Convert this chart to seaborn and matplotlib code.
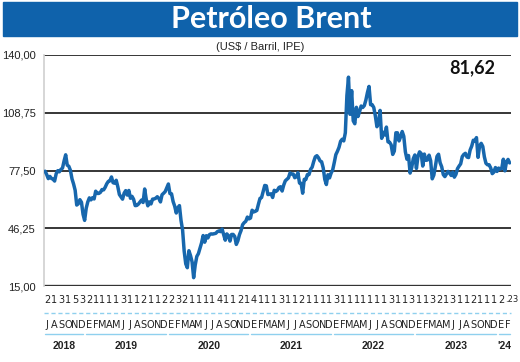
import pandas as pd
import numpy as np
import seaborn as sns
import matplotlib.pyplot as plt
import matplotlib.transforms as mtransforms
from matplotlib.patches import Rectangle

# weekly Brent closes (US$/barrel), one list per year, first friday given
START_2018 = '2018-07-06'
BRENT_2018 = [77.1, 75.3, 73.1, 74.3, 73.2, 72.8, 71.8, 75.8, 77.4, 76.8, 78.1,
              78.8, 82.7, 86.0, 80.4, 79.8, 77.6, 73.0, 70.2, 66.8, 58.8, 59.5,
              61.7, 60.3, 53.8, 50.5]
START_2019 = '2019-01-04'
BRENT_2019 = [57.1, 60.5, 62.7, 61.6, 62.8, 62.1, 66.3, 65.1, 65.1, 65.7, 67.2,
              67.0, 68.4, 70.3, 71.6, 71.9, 74.0, 70.9, 70.6, 72.2, 68.7, 64.5,
              63.3, 62.0, 65.2, 66.6, 64.2, 66.7, 62.5, 63.5, 61.9, 58.5, 58.6,
              59.3, 60.4, 61.5, 60.2, 67.5, 61.9, 58.4, 60.5, 59.4, 62.0, 62.1,
              62.5, 63.3, 62.4, 60.5, 64.4, 65.2, 66.1, 68.2]
START_2020 = '2020-01-03'
BRENT_2020 = [70.2, 65.0, 64.9, 60.7, 58.2, 54.5, 57.3, 58.5, 50.5, 45.3, 33.9,
              27.0, 24.9, 34.1, 31.5, 28.1, 19.5, 26.4, 31.0, 32.5, 35.3, 38.3,
              42.3, 38.7, 42.2, 41.0, 42.8, 43.2, 43.1, 43.3, 43.5, 44.4, 44.8,
              44.4, 45.8, 42.7, 39.8, 43.2, 42.2, 39.3, 42.9, 42.9, 41.8, 37.5,
              39.5, 42.8, 45.0, 48.2, 49.3, 50.0, 52.3, 51.3]
START_2021 = '2021-01-01'
BRENT_2021 = [51.8, 56.0, 55.1, 55.4, 55.9, 59.3, 62.4, 62.9, 66.1, 69.4, 69.2,
              64.5, 64.6, 64.9, 62.9, 66.8, 66.1, 66.8, 68.3, 68.7, 66.4, 69.6,
              71.9, 72.7, 73.5, 76.2, 75.6, 75.6, 73.6, 74.1, 76.3, 70.7, 70.6,
              65.2, 72.7, 72.6, 75.3, 75.3, 78.1, 79.3, 82.4, 84.9, 85.5, 84.4,
              82.7, 82.2, 78.9, 72.7, 69.9, 75.2, 73.5, 76.1, 77.8]
START_2022 = '2022-01-07'
BRENT_2022 = [81.8, 86.1, 87.9, 90.0, 93.3, 94.4, 93.5, 97.9, 118.1, 128.0,
              107.9, 120.7, 104.4, 102.8, 111.7, 106.7, 109.3, 112.4, 111.6,
              112.6, 115.6, 119.7, 123.0, 113.1, 113.1, 111.6, 107.0, 101.2,
              103.2, 110.0, 94.9, 98.2, 96.7, 101.0, 93.0, 92.8, 91.4, 86.2,
              88.0, 97.9, 97.9, 93.5, 95.8, 98.6, 96.0, 87.6, 83.6, 85.6, 76.1,
              79.0, 83.9, 85.9]
START_2023 = '2023-01-06'
BRENT_2023 = [78.6, 85.3, 87.6, 86.7, 79.9, 86.4, 83.0, 83.2, 85.8, 82.8, 73.0,
              75.0, 79.8, 85.1, 86.3, 81.7, 79.5, 75.3, 74.2, 75.6, 77.0, 76.1,
              74.8, 76.6, 73.9, 75.4, 78.5, 79.9, 81.1, 85.0, 86.2, 86.8, 84.8,
              84.5, 88.6, 90.7, 93.9, 93.3, 95.3, 84.6, 90.9, 92.2, 90.5, 84.9,
              81.4, 80.6, 80.6, 78.9, 75.8, 76.6, 79.1, 77.0]
START_2024 = '2024-01-05'
BRENT_2024 = [78.8, 78.3, 78.6, 83.6, 77.3, 82.2, 83.5, 81.6]

LAST_VALUE = '81,62'

# month axis (Jul 2018 .. Feb 2024)
MONTH_LETTERS = ['J', 'A', 'S', 'O', 'N', 'D',
                 'E', 'F', 'M', 'A', 'M', 'J', 'J', 'A', 'S', 'O', 'N', 'D',
                 'E', 'F', 'M', 'A', 'M', 'J', 'J', 'A', 'S', 'O', 'N', 'D',
                 'E', 'F', 'M', 'A', 'M', 'J', 'J', 'A', 'S', 'O', 'N', 'D',
                 'E', 'F', 'M', 'A', 'M', 'J', 'J', 'A', 'S', 'O', 'N', 'D',
                 'E', 'F', 'M', 'A', 'M', 'J', 'J', 'A', 'S', 'O', 'N', 'D',
                 'E', 'F']
MONTH_DIGITS = ['2', '1', '3', '1', '5', '3',
                '2', '1', '1', '1', '1', '3', '1', '1', '2', '1', '1', '2',
                '2', '3', '2', '1', '1', '1', '1', '4', '1', '1', '2', '1',
                '4', '1', '1', '1', '3', '1', '1', '2', '1', '1', '1', '1',
                '3', '1', '1', '1', '1', '1', '1', '1', '3', '1', '1', '3',
                '1', '1', '3', '2', '1', '3', '1', '1', '2', '1', '1', '1',
                '2', '.23']
YEARS = ['2018', '2019', '2020', '2021', '2022', '2023', "'24"]
YEAR_FIRST = ['2018-07', '2019-01', '2020-01', '2021-01', '2022-01', '2023-01', '2024-01']
YEAR_LAST = ['2018-12', '2019-12', '2020-12', '2021-12', '2022-12', '2023-12', '2024-02']

Y_TICKS = [15.0, 46.25, 77.5, 108.75, 140.0]

BANNER = '#0f62ab'
LINE = '#1767ad'
LIGHT_BLUE = '#8fd0ee'


def build_frame():
    ''' one frame of weekly dates and prices '''
    parts = []
    for start, vals in [(START_2018, BRENT_2018), (START_2019, BRENT_2019),
                        (START_2020, BRENT_2020), (START_2021, BRENT_2021),
                        (START_2022, BRENT_2022), (START_2023, BRENT_2023),
                        (START_2024, BRENT_2024)]:
        dates = pd.date_range(start, periods=len(vals), freq='7D')
        parts.append(pd.DataFrame({'date': dates, 'price': vals}))
    return pd.concat(parts, ignore_index=True)


def main():
    df = build_frame()
    sns.set_style('white')
    plt.rcParams['font.family'] = ['Liberation Sans', 'DejaVu Sans']

    fig = plt.figure(figsize=(5.2, 3.62), dpi=100)
    W, H = 520, 362
    ax = fig.add_axes([44 / W, 1 - 286 / H, (511 - 44) / W, (286 - 55) / H])

    # title banner
    fig.patches.append(Rectangle((3 / W, 1 - 36 / H), 514 / W, 34 / H,
                                 transform=fig.transFigure, color=BANNER,
                                 zorder=0))
    fig.text(271 / W, 1 - 19 / H, 'Petróleo Brent', ha='center', va='center',
             color='white', fontsize=22, fontweight='bold',
             family=['Lato', 'DejaVu Sans'])
    fig.text(260 / W, 1 - 47 / H, '(US$ / Barril, IPE)', ha='center',
             va='center', fontsize=8, color='#222222')

    for y in Y_TICKS[1:]:
        ax.axhline(y, color='black', lw=1.1, zorder=1)
    ax.axhline(Y_TICKS[0], color='#333333', lw=2.4, zorder=1)

    sns.lineplot(data=df, x='date', y='price', ax=ax, color=LINE, lw=2.5,
                 zorder=3)

    ax.set_ylim(15, 140)
    ax.set_xlim(pd.Timestamp('2018-07-01'), pd.Timestamp('2024-02-29'))
    ax.set_yticks(Y_TICKS)
    ax.set_yticklabels([f'{v:.2f}'.replace('.', ',') for v in Y_TICKS],
                       fontsize=8, color='#222222')
    ax.tick_params(axis='y', length=0, pad=6)
    ax.set_xticks([])
    ax.set_xlabel('')
    ax.set_ylabel('')
    for side in ['top', 'right', 'bottom']:
        ax.spines[side].set_visible(False)
    ax.spines['left'].set_color('#d0d0d0')
    ax.spines['left'].set_linewidth(1.2)

    ax.text(472 / W, 1 - 68 / H, LAST_VALUE, transform=fig.transFigure,
            ha='center', va='center', fontsize=13, fontweight='bold',
            family=['Lato', 'DejaVu Sans'], color='#111111')

    # month rows below the plot
    trans = mtransforms.blended_transform_factory(ax.transData, fig.transFigure)
    months = pd.date_range('2018-07-01', periods=len(MONTH_LETTERS), freq='MS')
    narrow = ['Liberation Sans Narrow', 'DejaVu Sans']
    for m, letter, digit in zip(months, MONTH_LETTERS, MONTH_DIGITS):
        mid = m + pd.Timedelta(days=15)
        if len(digit) > 1:
            # the last label is squeezed in at the right edge
            ax.text(m + pd.Timedelta(days=4), 1 - 300 / H, digit,
                    transform=trans, ha='left', va='center', fontsize=6,
                    family=narrow, color='#222222')
        else:
            ax.text(mid, 1 - 300 / H, digit, transform=trans, ha='center',
                    va='center', fontsize=7, family=narrow, color='#222222')
        ax.text(mid, 1 - 325 / H, letter, transform=trans, ha='center',
                va='center', fontsize=7, family=narrow, color='#222222')
    ax.plot([months[0], months[-1] + pd.Timedelta(days=26)],
            [1 - 313 / H, 1 - 313 / H], transform=trans, color=LIGHT_BLUE,
            lw=1, ls=(0, (3, 2)), clip_on=False)

    for year, first, last in zip(YEARS, YEAR_FIRST, YEAR_LAST):
        start = pd.Timestamp(first) + pd.Timedelta(days=4)
        end = pd.Timestamp(last) + pd.Timedelta(days=22)
        ax.plot([start, end], [1 - 334 / H, 1 - 334 / H], transform=trans,
                color=LIGHT_BLUE, lw=1, clip_on=False)
        center = start + (end - start) / 2
        ax.text(center, 1 - 346 / H, year, transform=trans, ha='center',
                va='center', fontsize=7.5, fontweight='bold', color='#222222')

    fig.savefig('out.png', dpi=100)


if __name__ == "__main__":
    main()
